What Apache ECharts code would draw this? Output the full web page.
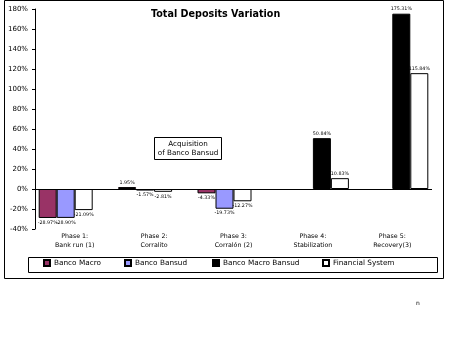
<!DOCTYPE html>
<html>
<head>
<meta charset="utf-8">
<script src="https://cdn.jsdelivr.net/npm/echarts@6/dist/echarts.min.js"></script>
<style>
html,body{margin:0;padding:0;background:#fff;}
#chart{width:457px;height:357px;}
</style>
</head>
<body>
<div id="chart"></div>
<script>
var categories = ['Phase 1:\nBank run (1)', 'Phase 2:\nCorralito', 'Phase 3:\nCorralón (2)', 'Phase 4:\nStabilization', 'Phase 5:\nRecovery(3)'];
var bancoMacro = [-28.97, 1.95, -4.33, null, null];
var bancoBansud = [-28.90, -1.57, -19.73, null, null];
var bancoMacroBansud = [null, null, null, 50.84, 175.31];
var financialSystem = [-21.09, -2.81, -12.27, 10.83, 115.84];
var yTicks = [-40, -20, 0, 20, 40, 60, 80, 100, 120, 140, 160, 180];

var FONT = 'DejaVu Sans';

function items(arr) {
  return arr.map(function (v) {
    if (v === null) return null;
    return { value: v, label: { position: v < 0 ? 'bottom' : 'top' } };
  });
}
// Financial System sits in the third slot for phases 1-3 and the fourth for phases 4-5
var fsEarly = financialSystem.map(function (v, i) { return bancoMacroBansud[i] === null ? v : null; });
var fsLate = financialSystem.map(function (v, i) { return bancoMacroBansud[i] === null ? null : v; });

var labelCfg = {
  show: true,
  distance: 2,
  fontFamily: FONT,
  fontSize: 4.8,
  color: '#000',
  formatter: function (p) { return p.value.toFixed(2) + '%'; }
};

function bar(name, data, color, stack) {
  var s = {
    name: name,
    type: 'bar',
    data: items(data),
    barWidth: 18,
    barGap: '0%',
    itemStyle: { color: color, borderColor: '#000', borderWidth: 1 },
    label: labelCfg,
    emphasis: { disabled: true },
    animation: false
  };
  if (stack) s.stack = stack;
  return s;
}

var series = [
  bar('Banco Macro', bancoMacro, '#993366'),
  bar('Banco Bansud', bancoBansud, '#9999FF'),
  bar('Banco Macro Bansud', bancoMacroBansud, '#000000', 'slot3'),
  bar('Financial System', fsEarly, '#FFFFFF', 'slot3'),
  bar('Financial System', fsLate, '#FFFFFF')
];
series[0].markLine = {
  silent: true,
  symbol: 'none',
  label: { show: false },
  lineStyle: { color: '#000', width: 1, type: 'solid' },
  data: [{ yAxis: 0 }],
  animation: false
};

function legend(name, left) {
  return {
    data: [name],
    left: left,
    top: 259,
    padding: 0,
    itemWidth: 6,
    itemHeight: 6,
    itemGap: 0,
    icon: 'rect',
    selectedMode: false,
    textStyle: { fontFamily: FONT, fontSize: 7.3, color: '#000', padding: [0, 0, 0, -1] }
  };
}

var chart = echarts.init(document.getElementById('chart'), null, { renderer: 'canvas' });
chart.setOption({
  animation: false,
  backgroundColor: '#fff',
  title: {
    text: 'Total Deposits Variation',
    left: 151,
    top: 9,
    padding: 0,
    textStyle: { fontFamily: FONT, fontSize: 9.6, fontWeight: 'bold', color: '#000' }
  },
  legend: [
    legend('Banco Macro', 43),
    legend('Banco Bansud', 124),
    legend('Banco Macro Bansud', 212),
    legend('Financial System', 322)
  ],
  grid: { left: 35, right: 25, top: 9, bottom: 128, containLabel: false },
  xAxis: {
    type: 'category',
    data: categories,
    axisLine: { show: false, onZero: false },
    axisTick: { show: false },
    axisLabel: { fontFamily: FONT, fontSize: 6.3, color: '#000', lineHeight: 9, margin: 3, interval: 0 },
    splitLine: { show: false }
  },
  yAxis: {
    type: 'value',
    min: yTicks[0],
    max: yTicks[yTicks.length - 1],
    interval: 20,
    axisLine: { show: true, lineStyle: { color: '#000', width: 1 } },
    axisTick: { show: true, length: 3, lineStyle: { color: '#000' } },
    axisLabel: { fontFamily: FONT, fontSize: 7, color: '#000', margin: 7, formatter: '{value}%' },
    splitLine: { show: false }
  },
  series: series,
  graphic: [
    { type: 'rect', shape: { x: 4.5, y: 0.5, width: 439, height: 278 }, style: { fill: null, stroke: '#000', lineWidth: 1 }, silent: true, z: 0 },
    { type: 'rect', shape: { x: 28.5, y: 257.5, width: 409, height: 15 }, style: { fill: null, stroke: '#000', lineWidth: 1 }, silent: true },
    { type: 'rect', shape: { x: 154.5, y: 137.5, width: 67, height: 22 }, style: { fill: '#fff', stroke: '#000', lineWidth: 1 }, silent: true },
    { type: 'text', x: 188, y: 149, style: { text: 'Acquisition\nof Banco Bansud', fontFamily: FONT, fontSize: 7.2, lineHeight: 9, fill: '#000', align: 'center', verticalAlign: 'middle' }, silent: true },
    { type: 'text', x: 418, y: 303, style: { text: 'n', fontFamily: FONT, fontSize: 6, fill: '#000', align: 'center', verticalAlign: 'middle' }, silent: true }
  ]
});
</script>
</body>
</html>
